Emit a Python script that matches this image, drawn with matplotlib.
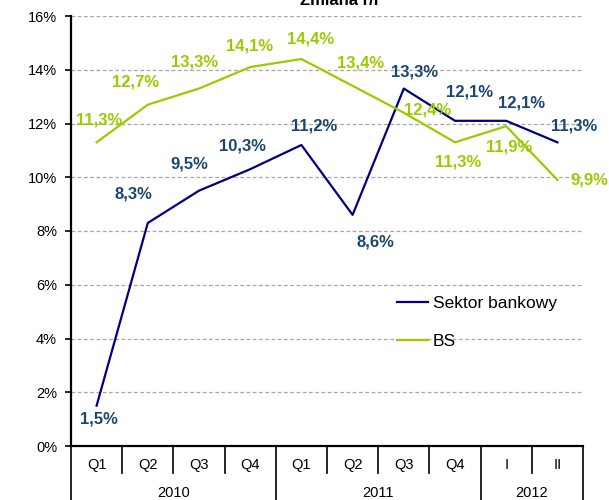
import matplotlib.pyplot as plt
import matplotlib.transforms as mtransforms
from matplotlib.ticker import FuncFormatter

plt.rcParams["font.family"] = ["Liberation Sans", "DejaVu Sans"]

# =========================
# DANE
# =========================
kwartaly = ["Q1", "Q2", "Q3", "Q4", "Q1", "Q2", "Q3", "Q4", "I", "II"]
lata = ["2010", "2011", "2012"]
lata_dlugosc = [4, 4, 2]

sektor_bankowy = [1.5, 8.3, 9.5, 10.3, 11.2, 8.6, 13.3, 12.1, 12.1, 11.3]
bs = [11.3, 12.7, 13.3, 14.1, 14.4, 13.4, 12.4, 11.3, 11.9, 9.9]

# =========================
# STYL
# =========================
KOLOR_SEKTOR = "#000080"
KOLOR_SEKTOR_TXT = "#1B4673"
KOLOR_BS = "#99CC00"

# przesunięcia etykiet (piksele)
off_sektor = [(2, -13), (-14, 29), (-10, 27), (-8, 23), (13, 19),
              (23, -27), (11, 17), (15, 29), (15, 18), (17, 16)]
off_bs = [(3, 22), (-12, 23), (-4, 27), (-1, 21), (9, 20),
          (8, 23), (24, 3), (3, -20), (3, -21), (32, 0)]

fig = plt.figure(figsize=(6.09, 5.00), dpi=100)
ax = fig.add_axes([71 / 609, 54 / 500, 512 / 609, 430 / 500])

x = list(range(len(kwartaly)))

ax.plot(x, sektor_bankowy, color=KOLOR_SEKTOR, lw=1.6, label="Sektor bankowy", zorder=3)
ax.plot(x, bs, color=KOLOR_BS, lw=1.6, label="BS", zorder=3)

def fmt(v):
    return f"{v:.1f}%".replace(".", ",")

for i, v in enumerate(sektor_bankowy):
    ax.annotate(fmt(v), (i, v), xytext=off_sektor[i], textcoords="offset pixels",
                ha="center", va="center", color=KOLOR_SEKTOR_TXT,
                fontsize=12, fontweight="bold", zorder=4)
for i, v in enumerate(bs):
    ax.annotate(fmt(v), (i, v), xytext=off_bs[i], textcoords="offset pixels",
                ha="center", va="center", color=KOLOR_BS,
                fontsize=12, fontweight="bold", zorder=4)

# osie
ax.set_xlim(-0.5, len(kwartaly) - 0.5)
ax.set_ylim(0, 16)
ax.set_yticks(range(0, 17, 2))
ax.yaxis.set_major_formatter(FuncFormatter(lambda v, p: f"{v:.0f}%"))
ax.tick_params(axis="y", labelsize=10.5, length=4, width=1.2, direction="out", pad=6)
ax.set_xticks([])

ax.grid(axis="y", color="#A6A6A6", linestyle=(0, (3, 2)), lw=0.9)
ax.set_axisbelow(True)
for s in ["top", "right"]:
    ax.spines[s].set_visible(False)
ax.spines["left"].set_linewidth(1.6)
ax.spines["bottom"].set_linewidth(1.6)

# oś kategorii (kwartały / lata)
trans = mtransforms.blended_transform_factory(ax.transData, ax.transAxes)
y_kw = -27 / 430
y_dol = -54 / 430
for i, k in enumerate(kwartaly):
    ax.text(i, -19 / 430, k, transform=trans, ha="center", va="center", fontsize=10.5)

granice = [-0.5]
for n in lata_dlugosc:
    granice.append(granice[-1] + n)
for j in range(1, len(kwartaly)):
    xb = j - 0.5
    dol = y_dol if xb in granice else y_kw
    ax.plot([xb, xb], [0, dol], transform=trans, color="black", lw=1.2, clip_on=False)
for xb in [granice[0], granice[-1]]:
    ax.plot([xb, xb], [0, y_dol], transform=trans, color="black", lw=1.2, clip_on=False)
for r, rok in enumerate(lata):
    xs = (granice[r] + granice[r + 1]) / 2
    ax.text(xs, -47 / 430, rok, transform=trans, ha="center", va="center", fontsize=10.5)

# legenda
ax.legend(loc="upper left", bbox_to_anchor=(0.637, 0.349), frameon=False,
          fontsize=12.5, handlelength=1.8, handletextpad=0.25, labelspacing=1.3,
          borderpad=0, borderaxespad=0)

# tytuł (ucięty u góry, jak w oryginale)
fig.text(340 / 609, 1 - 5 / 500, "Zmiana r/r", ha="center", va="baseline",
         fontsize=12, fontweight="bold")

fig.savefig("out.png", dpi=100)
